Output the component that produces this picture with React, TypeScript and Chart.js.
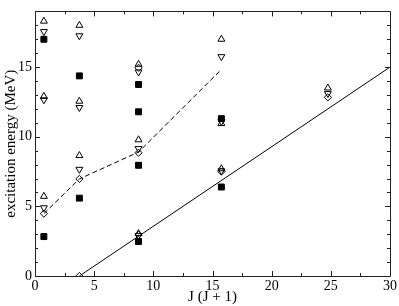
import React, { useEffect, useRef } from "react";
import { Chart, registerables } from "chart.js";

Chart.register(...registerables);

// J(J+1) positions
const upX = [0.75, 0.75, 0.75, 3.75, 3.75, 3.75, 8.75, 8.75, 8.75, 15.75, 15.75, 15.75, 24.75];
const upY = [18.3, 12.9, 5.72, 18.0, 12.55, 8.65, 15.2, 9.78, 3.05, 17.0, 10.95, 7.7, 13.5];

const downX = [0.75, 0.75, 0.75, 3.75, 3.75, 3.75, 8.75, 8.75, 8.75, 15.75, 15.75, 15.75, 24.75];
const downY = [17.55, 12.65, 4.9, 17.25, 12.1, 7.66, 14.65, 9.15, 2.9, 15.75, 11.1, 7.55, 13.1];

const squareX = [0.75, 0.75, 3.75, 3.75, 8.75, 8.75, 8.75, 8.75, 15.75, 15.75];
const squareY = [17.0, 2.83, 14.37, 5.59, 13.75, 11.79, 7.95, 2.48, 11.3, 6.39];

const diamondX = [0.75, 3.75, 3.75, 8.75, 8.75, 8.75, 15.75, 24.75];
const diamondY = [4.48, 6.97, 0, 14.95, 8.85, 2.95, 7.5, 12.83];

const dashX = [0.75, 3.75, 8.75, 15.75];
const dashY = [4.48, 6.97, 8.9, 14.83];

const solidX = [3.75, 30];
const solidY = [0, 15.0];

const xTicks = [0, 5, 10, 15, 20, 25, 30];
const yTicks = [0, 5, 10, 15];

const zip = (xs: number[], ys: number[]) => xs.map((x, i) => ({ x, y: ys[i] }));

const FONT = "'Liberation Serif', 'Times New Roman', serif";

const frameTicks = {
  id: "frameTicks",
  afterDraw(chart: any) {
    const { ctx, chartArea } = chart;
    const { left, right, top, bottom } = chartArea;
    const xs = chart.scales.x;
    const ys = chart.scales.y;
    ctx.save();
    ctx.strokeStyle = "#222";
    ctx.lineWidth = 1;
    ctx.beginPath();
    ctx.rect(Math.round(left) + 0.5, Math.round(top) + 0.5, Math.round(right - left), Math.round(bottom - top));
    ctx.stroke();
    ctx.beginPath();
    for (let v = 0; v <= 30; v += 2.5) {
      const len = v % 5 === 0 ? 5 : 3;
      const px = Math.round(xs.getPixelForValue(v)) + 0.5;
      ctx.moveTo(px, bottom);
      ctx.lineTo(px, bottom - len);
      ctx.moveTo(px, top);
      ctx.lineTo(px, top + len);
    }
    for (let v = 0; v <= 19; v += 1) {
      const len = v % 5 === 0 ? 5 : 3;
      const py = Math.round(ys.getPixelForValue(v)) + 0.5;
      ctx.moveTo(left, py);
      ctx.lineTo(left + len, py);
      ctx.moveTo(right, py);
      ctx.lineTo(right - len, py);
    }
    ctx.stroke();
    ctx.restore();
  },
};

export default function App() {
  const ref = useRef<HTMLCanvasElement>(null);
  useEffect(() => {
    if (!ref.current) return;
    const marker = {
      showLine: false,
      borderColor: "#000",
      borderWidth: 1,
      backgroundColor: "rgba(0,0,0,0)",
    };
    const chart = new Chart(ref.current, {
      type: "scatter",
      data: {
        datasets: [
          {
            data: zip(solidX, solidY),
            showLine: true,
            borderColor: "#000",
            borderWidth: 1,
            pointRadius: 0,
          },
          {
            data: zip(dashX, dashY),
            showLine: true,
            borderColor: "#000",
            borderWidth: 1,
            borderDash: [5, 3],
            pointRadius: 0,
          },
          { ...marker, data: zip(upX, upY), pointStyle: "triangle", pointRadius: 4 },
          { ...marker, data: zip(downX, downY), pointStyle: "triangle", pointRotation: 180, pointRadius: 4 },
          { ...marker, data: zip(squareX, squareY), pointStyle: "rect", pointRadius: 4.2, backgroundColor: "#000" },
          { ...marker, data: zip(diamondX, diamondY), pointStyle: "rectRot", pointRadius: 3.6 },
        ] as any,
      },
      options: {
        animation: false,
        responsive: false,
        maintainAspectRatio: false,
        layout: { padding: { top: 1, right: 9, left: 0, bottom: 0 } },
        plugins: { legend: { display: false }, tooltip: { enabled: false } },
        elements: { line: { tension: 0 } },
        scales: {
          x: {
            type: "linear",
            min: 0,
            max: 30,
            afterBuildTicks: (s: any) => {
              s.ticks = xTicks.map((v) => ({ value: v }));
            },
            afterFit: (s: any) => {
              s.height = 30;
            },
            grid: { display: false, drawTicks: false },
            border: { display: false },
            ticks: { color: "#000", font: { family: FONT, size: 14 }, padding: 2, maxRotation: 0 },
            title: {
              display: true,
              text: "J (J + 1)",
              color: "#000",
              font: { family: FONT, size: 15 },
              padding: { top: 0, bottom: 0 },
            },
          },
          y: {
            type: "linear",
            min: 0,
            max: 19,
            afterBuildTicks: (s: any) => {
              s.ticks = yTicks.map((v) => ({ value: v }));
            },
            afterFit: (s: any) => {
              s.width = 35;
            },
            grid: { display: false, drawTicks: false },
            border: { display: false },
            ticks: { color: "#000", font: { family: FONT, size: 14 }, padding: 3 },
            title: {
              display: true,
              text: "excitation energy (MeV)",
              color: "#000",
              font: { family: FONT, size: 15 },
              padding: { top: 2, bottom: 0 },
            },
          },
        },
      } as any,
      plugins: [frameTicks],
    });
    return () => chart.destroy();
  }, []);
  return (
    <div style={{ position: "fixed", left: 0, top: 0, width: 399, height: 306, background: "#fff" }}>
      <canvas ref={ref} width={399} height={306} style={{ width: 399, height: 306, display: "block" }} />
    </div>
  );
}
